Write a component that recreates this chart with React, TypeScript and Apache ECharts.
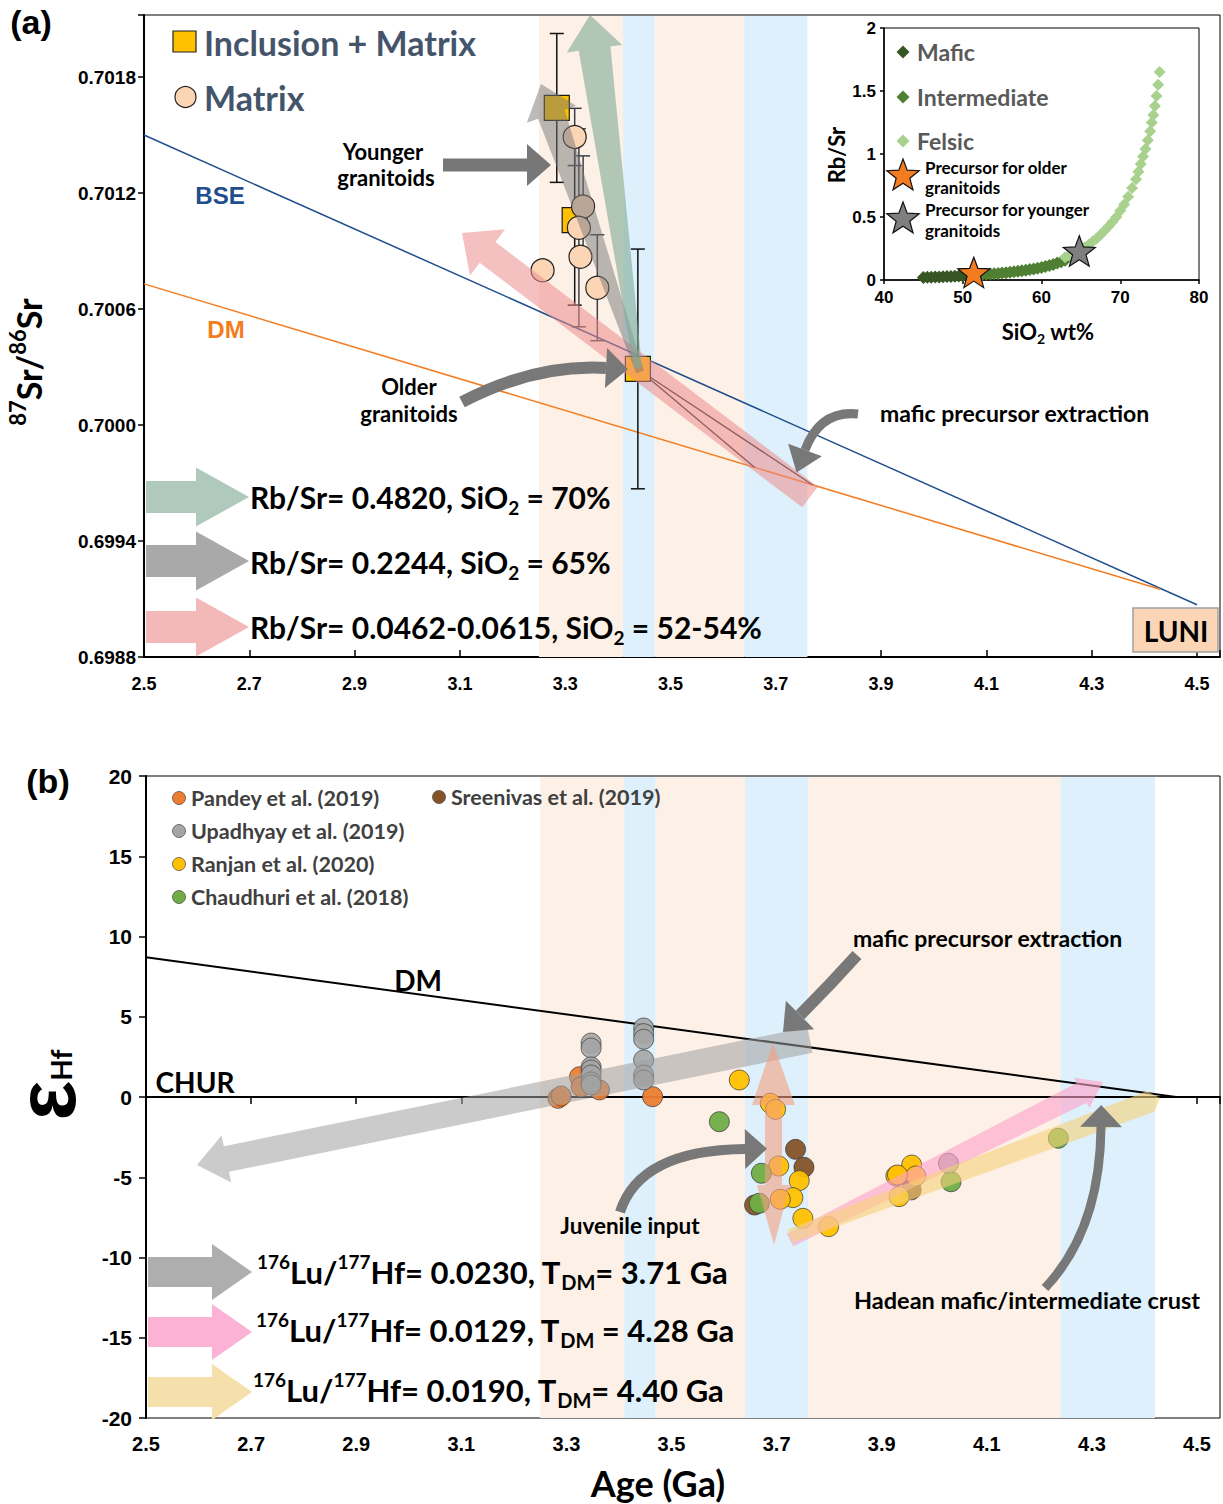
import React, { useEffect, useRef } from 'react';
import * as echarts from 'echarts';

const W = 1223;
const H = 1504;

// ---------------- DATA ----------------
const AGE_TICKS = ['2.5', '2.7', '2.9', '3.1', '3.3', '3.5', '3.7', '3.9', '4.1', '4.3', '4.5'];
const SR_TICKS = ['0.6988', '0.6994', '0.7000', '0.7006', '0.7012', '0.7018'];

// age bands [from, to, kind(0 peach / 1 blue)]
const BANDS_A = [[3.25, 3.41, 0], [3.41, 3.47, 1], [3.47, 3.64, 0], [3.64, 3.76, 1]];
const BANDS_B = [[3.25, 3.41, 0], [3.41, 3.47, 1], [3.47, 3.64, 0], [3.64, 3.76, 1], [3.76, 4.24, 0], [4.24, 4.42, 1]];

// panel (a)
const BSE_LINE = [[2.5, 0.70150], [4.5, 0.69907]];
const DM_LINE_A = [[2.5, 0.70073], [4.43, 0.69915]];
const MODEL_LINE_1 = [[3.438, 0.70029], [3.66, 0.69978]];
const MODEL_LINE_2 = [[3.438, 0.70029], [3.77, 0.69969]];
const INCL_MATRIX = [[3.284, 0.70164], [3.318, 0.70106], [3.438, 0.70029]];
const INCL_MATRIX_ERR = [0.000385, 0.00044, 0.00062];
const MATRIX = [[3.318, 0.70149], [3.334, 0.70113], [3.326, 0.70102], [3.329, 0.70087], [3.257, 0.70080], [3.361, 0.70071]];
const MATRIX_ERR = [0.000148, 0.000262, 0.000512, 0, 0, 0.000274];

// inset: SiO2 vs Rb/Sr
const MAFIC_SIO2 = [45, 45.5, 46, 46.5, 47, 47.5, 48, 48.5, 49, 49.5, 50, 50.5, 51, 51.5, 52];
const MAFIC_RBSR = [0.02, 0.021, 0.022, 0.023, 0.024, 0.025, 0.027, 0.028, 0.029, 0.031, 0.032, 0.034, 0.036, 0.038, 0.04];
const INTER_SIO2 = [52, 52.5, 53, 53.5, 54, 54.5, 55, 55.5, 56, 56.5, 57, 57.5, 58, 58.5, 59, 59.5, 60, 60.5, 61, 61.5, 62, 62.5, 63];
const INTER_RBSR = [0.042, 0.044, 0.046, 0.048, 0.05, 0.052, 0.055, 0.058, 0.061, 0.065, 0.069, 0.073, 0.078, 0.083, 0.088, 0.094, 0.1, 0.107, 0.115, 0.124, 0.134, 0.145, 0.157];
const FELSIC_SIO2 = [63, 63.5, 64, 64.5, 65, 65.5, 66, 66.5, 67, 67.5, 68, 68.5, 69, 69.5, 70, 70.5, 71, 71.5, 72, 72.3, 72.6, 72.9, 73.2, 73.5, 73.8, 74, 74.2, 74.4, 74.6, 74.8, 75];
const FELSIC_RBSR = [0.18, 0.195, 0.21, 0.225, 0.24, 0.26, 0.28, 0.305, 0.33, 0.36, 0.39, 0.425, 0.46, 0.5, 0.55, 0.6, 0.66, 0.73, 0.8, 0.86, 0.92, 0.98, 1.04, 1.11, 1.18, 1.25, 1.31, 1.38, 1.46, 1.55, 1.65];
const OLDER_PRECURSOR = [[51.4, 0.06]];
const YOUNGER_PRECURSOR = [[64.8, 0.23]];

// panel (b): age vs epsilon Hf
const DM_LINE_B = [[2.5, 8.7], [4.46, 0]];
const CHUR_LINE = [[2.5, 0], [4.54, 0]];
const PANDEY = [[3.284, -0.08], [3.29, 0.06], [3.325, 1.26], [3.328, 0.64], [3.363, 0.44], [3.464, 0.02]];
const SREENIVAS = [[3.736, -3.26], [3.752, -4.38], [3.658, -6.73], [3.956, -5.79]];
const RANJAN = [[3.629, 1.06], [3.688, -0.39], [3.698, -0.77], [3.704, -4.3], [3.743, -5.21], [3.731, -6.27], [3.707, -6.37], [3.75, -7.56], [3.799, -8.08], [3.927, -4.92], [3.957, -4.24], [3.965, -4.92], [3.93, -4.86], [3.933, -6.21]];
const CHAUDHURI = [[3.591, -1.54], [3.671, -4.75], [3.667, -6.62], [4.032, -5.28], [4.236, -2.57]];
const UPADHYAY = [[3.347, 3.36], [3.347, 3.05], [3.347, 1.87], [3.347, 1.68], [3.347, 1.37], [3.347, 0.93], [3.347, 0.75], [3.447, 4.3], [3.447, 3.95], [3.447, 3.6], [3.447, 2.31], [3.447, 1.37], [3.447, 1.06], [4.027, -4.13]];

// ---------------- helpers ----------------
const XO = 2.5; // age axis offset
const SRO = 0.6988; // Sr axis offset
const SRS = 1e4; // Sr axis scale
const ax = (x: number) => +(x - XO).toFixed(6);
const sy = (y: number) => +((y - SRO) * SRS).toFixed(6);

const PEACH = '#fdf0e6';
const BLUE = '#ddf0fb';
const LATO = 'Lato, "Open Sans", sans-serif';
const ARIAL = '"Liberation Sans", Arial, sans-serif';

const xFmt = (v: number) => {
  const k = v / 0.2;
  const r = Math.round(k);
  return Math.abs(k - r) < 1e-6 && AGE_TICKS[r] ? AGE_TICKS[r] : '';
};
const syFmt = (v: number) => {
  const k = v / 6;
  const r = Math.round(k);
  return Math.abs(k - r) < 1e-6 && SR_TICKS[r] ? SR_TICKS[r] : '';
};

type P = [number, number];

function blockArrow(p0: P, p1: P, w0: number, w1: number, hw: number, hl: number): number[][] {
  const dx = p1[0] - p0[0];
  const dy = p1[1] - p0[1];
  const L = Math.hypot(dx, dy);
  const ux = dx / L, uy = dy / L;
  const nx = -uy, ny = ux;
  const bx = p1[0] - ux * hl, by = p1[1] - uy * hl;
  return [
    [p0[0] + nx * w0 / 2, p0[1] + ny * w0 / 2],
    [bx + nx * w1 / 2, by + ny * w1 / 2],
    [bx + nx * hw / 2, by + ny * hw / 2],
    [p1[0], p1[1]],
    [bx - nx * hw / 2, by - ny * hw / 2],
    [bx - nx * w1 / 2, by - ny * w1 / 2],
    [p0[0] - nx * w0 / 2, p0[1] - ny * w0 / 2],
  ];
}

function starPts(cx: number, cy: number, R: number): number[][] {
  const pts: number[][] = [];
  for (let i = 0; i < 10; i++) {
    const a = -Math.PI / 2 + (i * Math.PI) / 5;
    const r = i % 2 === 0 ? R : R * 0.42;
    pts.push([cx + r * Math.cos(a), cy + r * Math.sin(a)]);
  }
  return pts;
}

const STAR_PATH = 'path://M0,-100L24.7,-34L95.1,-30.9L39.9,13L58.8,80.9L0,42L-58.8,80.9L-39.9,13L-95.1,-30.9L-24.7,-34Z';

function buildGraphic(): any[] {
  const g: any[] = [];
  const poly = (pts: number[][], fill: string, z = 100) => g.push({ type: 'polygon', z, silent: true, shape: { points: pts }, style: { fill } });
  const curved = (from: P, ctrl: P, to: P, lw: number, hl: number, hw: number, color = '#787878') => {
    const dx = to[0] - ctrl[0], dy = to[1] - ctrl[1];
    const L = Math.hypot(dx, dy);
    const ux = dx / L, uy = dy / L;
    const nx = -uy, ny = ux;
    g.push({ type: 'bezierCurve', z: 100, silent: true, shape: { x1: from[0], y1: from[1], x2: to[0], y2: to[1], cpx1: ctrl[0], cpy1: ctrl[1] }, style: { stroke: color, lineWidth: lw, fill: 'none' } });
    poly([[to[0] + nx * hw / 2, to[1] + ny * hw / 2], [to[0] + ux * hl, to[1] + uy * hl], [to[0] - nx * hw / 2, to[1] - ny * hw / 2]], color);
  };
  const T = (x: number, y: number, text: string, size: number, o: any = {}) =>
    g.push({
      type: 'text', x, y, z: 120, silent: true, rotation: o.rot || 0,
      style: {
        text, x: 0, y: 0, fontSize: size, fontWeight: 'bold', fontFamily: o.ff || LATO, fill: o.color || '#000',
        align: o.align || 'center', verticalAlign: 'middle', rich: o.rich,
      },
    });

  // ---------- panel (a) transparent arrows ----------
  poly(blockArrow([810, 497], [462, 233], 26, 26, 58, 32), 'rgba(236,140,140,0.55)');
  poly(blockArrow([640, 372], [541, 84], 8, 28, 52, 32), 'rgba(120,120,120,0.5)');
  poly(blockArrow([638, 368], [590, 15], 8, 32, 56, 34), 'rgba(128,170,148,0.6)');
  // younger granitoids arrow
  poly(blockArrow([443, 165], [551, 165], 13, 13, 42, 24), '#777777');
  curved([462, 402], [535, 364], [606, 368], 12, 22, 40);
  curved([858, 414], [820, 410], [805, 450], 9, 24, 36);

  // legend arrows (a)
  poly(blockArrow([146, 497], [249, 497], 32, 32, 59, 53), '#b0c9bd');
  poly(blockArrow([146, 561], [249, 561], 32, 32, 59, 53), '#a9a9a9');
  poly(blockArrow([146, 627], [249, 627], 32, 32, 59, 53), '#f3b8b8');

  const richA = {
    n: { fontSize: 30, fontWeight: 'bold', fontFamily: LATO, fill: '#000', lineHeight: 40 },
    s: { fontSize: 19, fontWeight: 'bold', fontFamily: LATO, fill: '#000', lineHeight: 26, verticalAlign: 'bottom' },
  };
  T(250, 497, '{n|Rb/Sr= 0.4820, SiO}{s|2}{n| = 70%}', 30, { align: 'left', rich: richA });
  T(250, 562, '{n|Rb/Sr= 0.2244, SiO}{s|2}{n| = 65%}', 30, { align: 'left', rich: richA });
  T(250, 627, '{n|Rb/Sr= 0.0462-0.0615, SiO}{s|2}{n| = 52-54%}', 30, { align: 'left', rich: richA });

  // legend (a)
  g.push({ type: 'rect', z: 120, shape: { x: 173, y: 31, width: 23, height: 21 }, style: { fill: '#ffc000', stroke: '#222', lineWidth: 1.2 } });
  g.push({ type: 'circle', z: 120, shape: { cx: 185.5, cy: 97, r: 10.5 }, style: { fill: '#fcd5b5', stroke: '#222', lineWidth: 1.2 } });
  T(204, 42, 'Inclusion + Matrix', 34, { align: 'left', color: '#44546a' });
  T(204, 97, 'Matrix', 34, { align: 'left', color: '#44546a' });

  T(220, 195, 'BSE', 24, { ff: ARIAL, color: '#1f4e8c' });
  T(226, 329, 'DM', 24, { ff: ARIAL, color: '#f47c20' });
  T(383, 151, 'Younger', 22);
  T(386, 177, 'granitoids', 22);
  T(409, 386, 'Older', 22);
  T(409, 413, 'granitoids', 22);
  T(880, 413, 'mafic precursor extraction', 23, { align: 'left' });

  // LUNI box
  g.push({ type: 'rect', z: 110, shape: { x: 1133, y: 608, width: 85, height: 44 }, style: { fill: '#fbd5b5', stroke: '#a0a0a0', lineWidth: 1.5 } });
  T(1176, 631, 'LUNI', 28);

  T(31, 22, '(a)', 34, { ff: ARIAL });
  T(28, 362, '{p|87}{n|Sr/}{p|86}{n|Sr}', 34, {
    rot: Math.PI / 2,
    rich: {
      n: { fontSize: 34, fontWeight: 'bold', fontFamily: LATO, fill: '#000', lineHeight: 44 },
      p: { fontSize: 22, fontWeight: 'bold', fontFamily: LATO, fill: '#000', lineHeight: 26, verticalAlign: 'top' },
    },
  });

  // ---------- inset legend ----------
  const dia = (cx: number, cy: number, s: number, fill: string) => poly([[cx, cy - s], [cx + s, cy], [cx, cy + s], [cx - s, cy]], fill, 120);
  dia(903, 52, 6.5, '#375623');
  dia(903, 97, 6.5, '#4f7f33');
  dia(903, 141, 6.5, '#a9d18e');
  T(917, 52, 'Mafic', 23, { align: 'left', color: '#595959' });
  T(917, 97, 'Intermediate', 23, { align: 'left', color: '#595959' });
  T(917, 141, 'Felsic', 23, { align: 'left', color: '#595959' });
  g.push({ type: 'polygon', z: 120, shape: { points: starPts(903, 176, 17) }, style: { fill: '#f47c20', stroke: '#111', lineWidth: 1.2 } });
  g.push({ type: 'polygon', z: 120, shape: { points: starPts(903, 219, 17) }, style: { fill: '#7f7f7f', stroke: '#111', lineWidth: 1.2 } });
  T(925, 167, 'Precursor for older', 17, { align: 'left' });
  T(925, 187, 'granitoids', 17, { align: 'left' });
  T(925, 209, 'Precursor for younger', 17, { align: 'left' });
  T(925, 230, 'granitoids', 17, { align: 'left' });
  T(836, 155, 'Rb/Sr', 22, { rot: Math.PI / 2 });
  T(1048, 331, '{n|SiO}{s|2}{n| wt%}', 21, {
    rich: {
      n: { fontSize: 22, fontWeight: 'bold', fontFamily: LATO, fill: '#000', lineHeight: 28 },
      s: { fontSize: 14, fontWeight: 'bold', fontFamily: LATO, fill: '#000', lineHeight: 18, verticalAlign: 'bottom' },
    },
  });

  // ---------- panel (b) transparent arrows ----------
  poly(blockArrow([810, 1040], [197, 1165], 26, 26, 48, 30), 'rgba(160,160,160,0.55)');
  // salmon double arrow
  poly([
    [773, 1043], [795, 1105], [782, 1105], [782, 1185], [790, 1185], [774, 1245],
    [757, 1185], [765, 1185], [765, 1105], [752, 1105],
  ], 'rgba(245,160,128,0.6)');
  poly(blockArrow([790, 1240], [1103, 1082], 14, 22, 34, 24), 'rgba(255,160,200,0.6)');
  poly(blockArrow([790, 1236], [1160, 1098], 14, 22, 22, 10), 'rgba(245,210,120,0.6)');
  curved([857, 955], [830, 985], [800, 1015], 12, 24, 40);
  curved([620, 1212], [640, 1150], [745, 1149], 10, 22, 40);
  curved([1045, 1288], [1100, 1230], [1101, 1127], 9, 22, 42);

  // legend arrows (b)
  poly(blockArrow([148, 1272], [252, 1272], 30, 30, 56, 40), '#aeaeae');
  poly(blockArrow([148, 1332], [252, 1332], 30, 30, 56, 40), '#fcb2d5');
  poly(blockArrow([148, 1392], [252, 1392], 30, 30, 56, 40), '#f5e0ac');
  const richB = {
    n: { fontSize: 31, fontWeight: 'bold', fontFamily: LATO, fill: '#000', lineHeight: 40 },
    p: { fontSize: 19, fontWeight: 'bold', fontFamily: LATO, fill: '#000', lineHeight: 24, verticalAlign: 'top' },
    b: { fontSize: 20, fontWeight: 'bold', fontFamily: LATO, fill: '#000', lineHeight: 22, verticalAlign: 'bottom' },
  };
  T(257, 1272, '{p|176}{n|Lu/}{p|177}{n|Hf= 0.0230, T}{b|DM}{n|= 3.71 Ga}', 31, { align: 'left', rich: richB });
  T(256, 1330, '{p|176}{n|Lu/}{p|177}{n|Hf= 0.0129, T}{b|DM}{n| = 4.28 Ga}', 31, { align: 'left', rich: richB });
  T(253, 1390, '{p|176}{n|Lu/}{p|177}{n|Hf= 0.0190, T}{b|DM}{n|= 4.40 Ga}', 31, { align: 'left', rich: richB });

  // legend (b)
  const leg = (cx: number, cy: number, color: string, label: string) => {
    g.push({ type: 'circle', z: 120, shape: { cx, cy, r: 6.5 }, style: { fill: color, stroke: '#555', lineWidth: 0.8 } });
    T(cx + 12, cy, label, 21.5, { align: 'left', color: '#404040' });
  };
  leg(179, 798, '#ed7d31', 'Pandey et al. (2019)');
  leg(179, 831, '#a5a5a5', 'Upadhyay et al. (2019)');
  leg(179, 864, '#ffc000', 'Ranjan et al. (2020)');
  leg(179, 897, '#70ad47', 'Chaudhuri et al. (2018)');
  leg(439, 797, '#845329', 'Sreenivas et al. (2019)');

  T(418, 980, 'DM', 28);
  T(195, 1082, 'CHUR', 28);
  T(853, 938, 'mafic precursor extraction', 23, { align: 'left' });
  T(630, 1225, 'Juvenile input', 22.5);
  T(1027, 1300, 'Hadean mafic/intermediate crust', 23.5);

  T(48, 781, '(b)', 34, { ff: ARIAL });
  T(46, 1085, '{e|ε}{h|Hf}', 80, {
    rot: Math.PI / 2,
    rich: {
      e: { fontSize: 84, fontWeight: 'bold', fontFamily: ARIAL, fill: '#000', lineHeight: 58 },
      h: { fontSize: 28, fontWeight: 'bold', fontFamily: LATO, fill: '#000', lineHeight: 26, verticalAlign: 'bottom' },
    },
  });
  T(658, 1483, 'Age (Ga)', 36);
  return g;
}

function bandRender(params: any, api: any) {
  const cs = params.coordSys;
  const x0 = api.coord([api.value(0), 0])[0];
  const x1 = api.coord([api.value(1), 0])[0];
  return {
    type: 'rect',
    shape: { x: x0, y: cs.y + 1, width: x1 - x0, height: cs.height - 1 },
    style: { fill: api.value(2) === 1 ? BLUE : PEACH },
  };
}

function errRender(color: string) {
  return (params: any, api: any) => {
    const x = api.value(0), y = api.value(1), e = api.value(2);
    const top = api.coord([x, y + e]);
    const bot = api.coord([x, y - e]);
    const st = { stroke: color, lineWidth: 1.5 };
    return {
      type: 'group',
      children: [
        { type: 'line', shape: { x1: top[0], y1: top[1], x2: bot[0], y2: bot[1] }, style: st },
        { type: 'line', shape: { x1: top[0] - 7, y1: top[1], x2: top[0] + 7, y2: top[1] }, style: st },
        { type: 'line', shape: { x1: bot[0] - 7, y1: bot[1], x2: bot[0] + 7, y2: bot[1] }, style: st },
      ],
    };
  };
}

function buildOption(): any {
  const axisLine = { show: true, lineStyle: { color: '#000', width: 2 } };
  const tick = (inside: boolean, length: number) => ({ show: true, inside, length, lineStyle: { color: '#000', width: 1.5 } });
  const lab = (size: number, margin: number, fmt?: any) => ({ fontSize: size, fontWeight: 'bold', fontFamily: ARIAL, color: '#000', margin, formatter: fmt });
  const ageA = (arr: number[][]) => arr.map((p) => [ax(p[0]), sy(p[1])]);
  const ageB = (arr: number[][]) => arr.map((p) => [ax(p[0]), p[1]]);
  const lineS = (xi: number, data: number[][], color: string, width: number, z = 2) => ({
    type: 'line', xAxisIndex: xi, yAxisIndex: xi, data, symbol: 'none', silent: true, z,
    lineStyle: { color, width }, animation: false,
  });
  const scat = (xi: number, data: number[][], color: string, size: number, symbol = 'circle', border = '#3d3d3d', bw = 0.8, z = 4, opacity = 1) => ({
    type: 'scatter', xAxisIndex: xi, yAxisIndex: xi, data, symbol, symbolSize: size, silent: true, z,
    itemStyle: { color, borderColor: border, borderWidth: bw, opacity },
  });

  return {
    animation: false,
    backgroundColor: '#fff',
    grid: [
      { left: 144, top: 15, width: 1077, height: 642, show: true, borderColor: '#000', borderWidth: 1, backgroundColor: 'transparent' },
      { left: 884, top: 28, width: 315, height: 252, show: true, borderColor: '#000', borderWidth: 1, backgroundColor: '#fff' },
      { left: 146, top: 776, width: 1075, height: 642, show: true, borderColor: '#000', borderWidth: 1, backgroundColor: 'transparent' },
    ],
    xAxis: [
      { gridIndex: 0, type: 'value', min: 0, max: 1077 / 527, interval: 0.2, axisLine, axisTick: tick(true, 7), axisLabel: lab(18, 18, xFmt), splitLine: { show: false } },
      { gridIndex: 1, type: 'value', min: 40, max: 80, interval: 10, axisLine: { show: true, lineStyle: { color: '#000', width: 1.5 } }, axisTick: tick(false, 4), axisLabel: lab(17, 9), splitLine: { show: false } },
      { gridIndex: 2, type: 'value', min: 0, max: 1075 / 526, interval: 0.2, axisLine, axisTick: tick(false, 7), axisLabel: lab(20, 16, xFmt), splitLine: { show: false } },
    ],
    yAxis: [
      { gridIndex: 0, type: 'value', min: 0, max: (642 / 116) * 6, interval: 6, axisLine, axisTick: tick(false, 6), axisLabel: lab(19, 8, syFmt), splitLine: { show: false } },
      { gridIndex: 1, type: 'value', min: 0, max: 2, interval: 0.5, axisLine: { show: true, lineStyle: { color: '#000', width: 1.5 } }, axisTick: tick(false, 4), axisLabel: lab(17, 8), splitLine: { show: false } },
      { gridIndex: 2, type: 'value', min: -20, max: 20, interval: 5, axisLine, axisTick: tick(false, 7), axisLabel: lab(21, 14), splitLine: { show: false } },
    ],
    series: [
      // panel (a)
      { type: 'custom', xAxisIndex: 0, yAxisIndex: 0, z: 1, silent: true, renderItem: bandRender, data: BANDS_A.map((b) => [ax(b[0]), ax(b[1]), b[2]]) },
      lineS(0, ageA(BSE_LINE), '#1f4e8c', 1.5),
      lineS(0, ageA(DM_LINE_A), '#f47c20', 1.5),
      lineS(0, ageA(MODEL_LINE_1), '#222', 1.3),
      lineS(0, ageA(MODEL_LINE_2), '#222', 1.3),
      { type: 'custom', xAxisIndex: 0, yAxisIndex: 0, z: 3, silent: true, renderItem: errRender('#111'), data: INCL_MATRIX.map((p, i) => [ax(p[0]), sy(p[1]), INCL_MATRIX_ERR[i] * SRS]) },
      { type: 'custom', xAxisIndex: 0, yAxisIndex: 0, z: 3, silent: true, renderItem: errRender('#3a3f4a'), data: MATRIX.map((p, i) => [ax(p[0]), sy(p[1]), MATRIX_ERR[i] * SRS]).filter((d) => d[2] > 0) },
      scat(0, ageA(INCL_MATRIX), '#ffc000', 25, 'rect', '#1a1a1a', 1.2, 4),
      scat(0, ageA(MATRIX), '#fcd5b5', 23, 'circle', '#222', 1.2, 5),
      // inset
      scat(1, MAFIC_SIO2.map((s, i) => [s, MAFIC_RBSR[i]]), '#375623', 13, 'diamond', 'none', 0, 4),
      scat(1, INTER_SIO2.map((s, i) => [s, INTER_RBSR[i]]), '#4f7f33', 13, 'diamond', 'none', 0, 4),
      scat(1, FELSIC_SIO2.map((s, i) => [s, FELSIC_RBSR[i]]), '#a9d18e', 12, 'diamond', 'none', 0, 4),
      { ...scat(1, OLDER_PRECURSOR, '#f47c20', 32, STAR_PATH, '#111', 1.2, 6), symbolKeepAspect: true },
      { ...scat(1, YOUNGER_PRECURSOR, '#7f7f7f', 32, STAR_PATH, '#111', 1.2, 6), symbolKeepAspect: true },
      // panel (b)
      { type: 'custom', xAxisIndex: 2, yAxisIndex: 2, z: 1, silent: true, renderItem: bandRender, data: BANDS_B.map((b) => [ax(b[0]), ax(b[1]), b[2]]) },
      lineS(2, ageB(DM_LINE_B), '#000', 2),
      lineS(2, ageB(CHUR_LINE), '#000', 2),
      scat(2, ageB(PANDEY), '#ed7d31', 20, 'circle', '#3d3d3d', 0.8, 4, 0.95),
      scat(2, ageB(SREENIVAS), '#845329', 20, 'circle', '#3d3d3d', 0.8, 4, 0.95),
      scat(2, ageB(RANJAN), '#ffc000', 20, 'circle', '#3d3d3d', 0.8, 4, 0.95),
      scat(2, ageB(CHAUDHURI), '#70ad47', 20, 'circle', '#3d3d3d', 0.8, 4, 0.95),
      scat(2, ageB(UPADHYAY), '#a5a5a5', 20, 'circle', '#3d3d3d', 0.8, 4, 0.9),
    ],
    graphic: buildGraphic(),
  };
}

export default function App() {
  const ref = useRef<HTMLDivElement>(null);
  useEffect(() => {
    if (!ref.current) return;
    const chart = echarts.init(ref.current, null, { renderer: 'svg' });
    chart.setOption(buildOption());
    return () => chart.dispose();
  }, []);
  return <div ref={ref} style={{ position: 'absolute', left: 0, top: 0, width: W, height: H, background: '#fff' }} />;
}
